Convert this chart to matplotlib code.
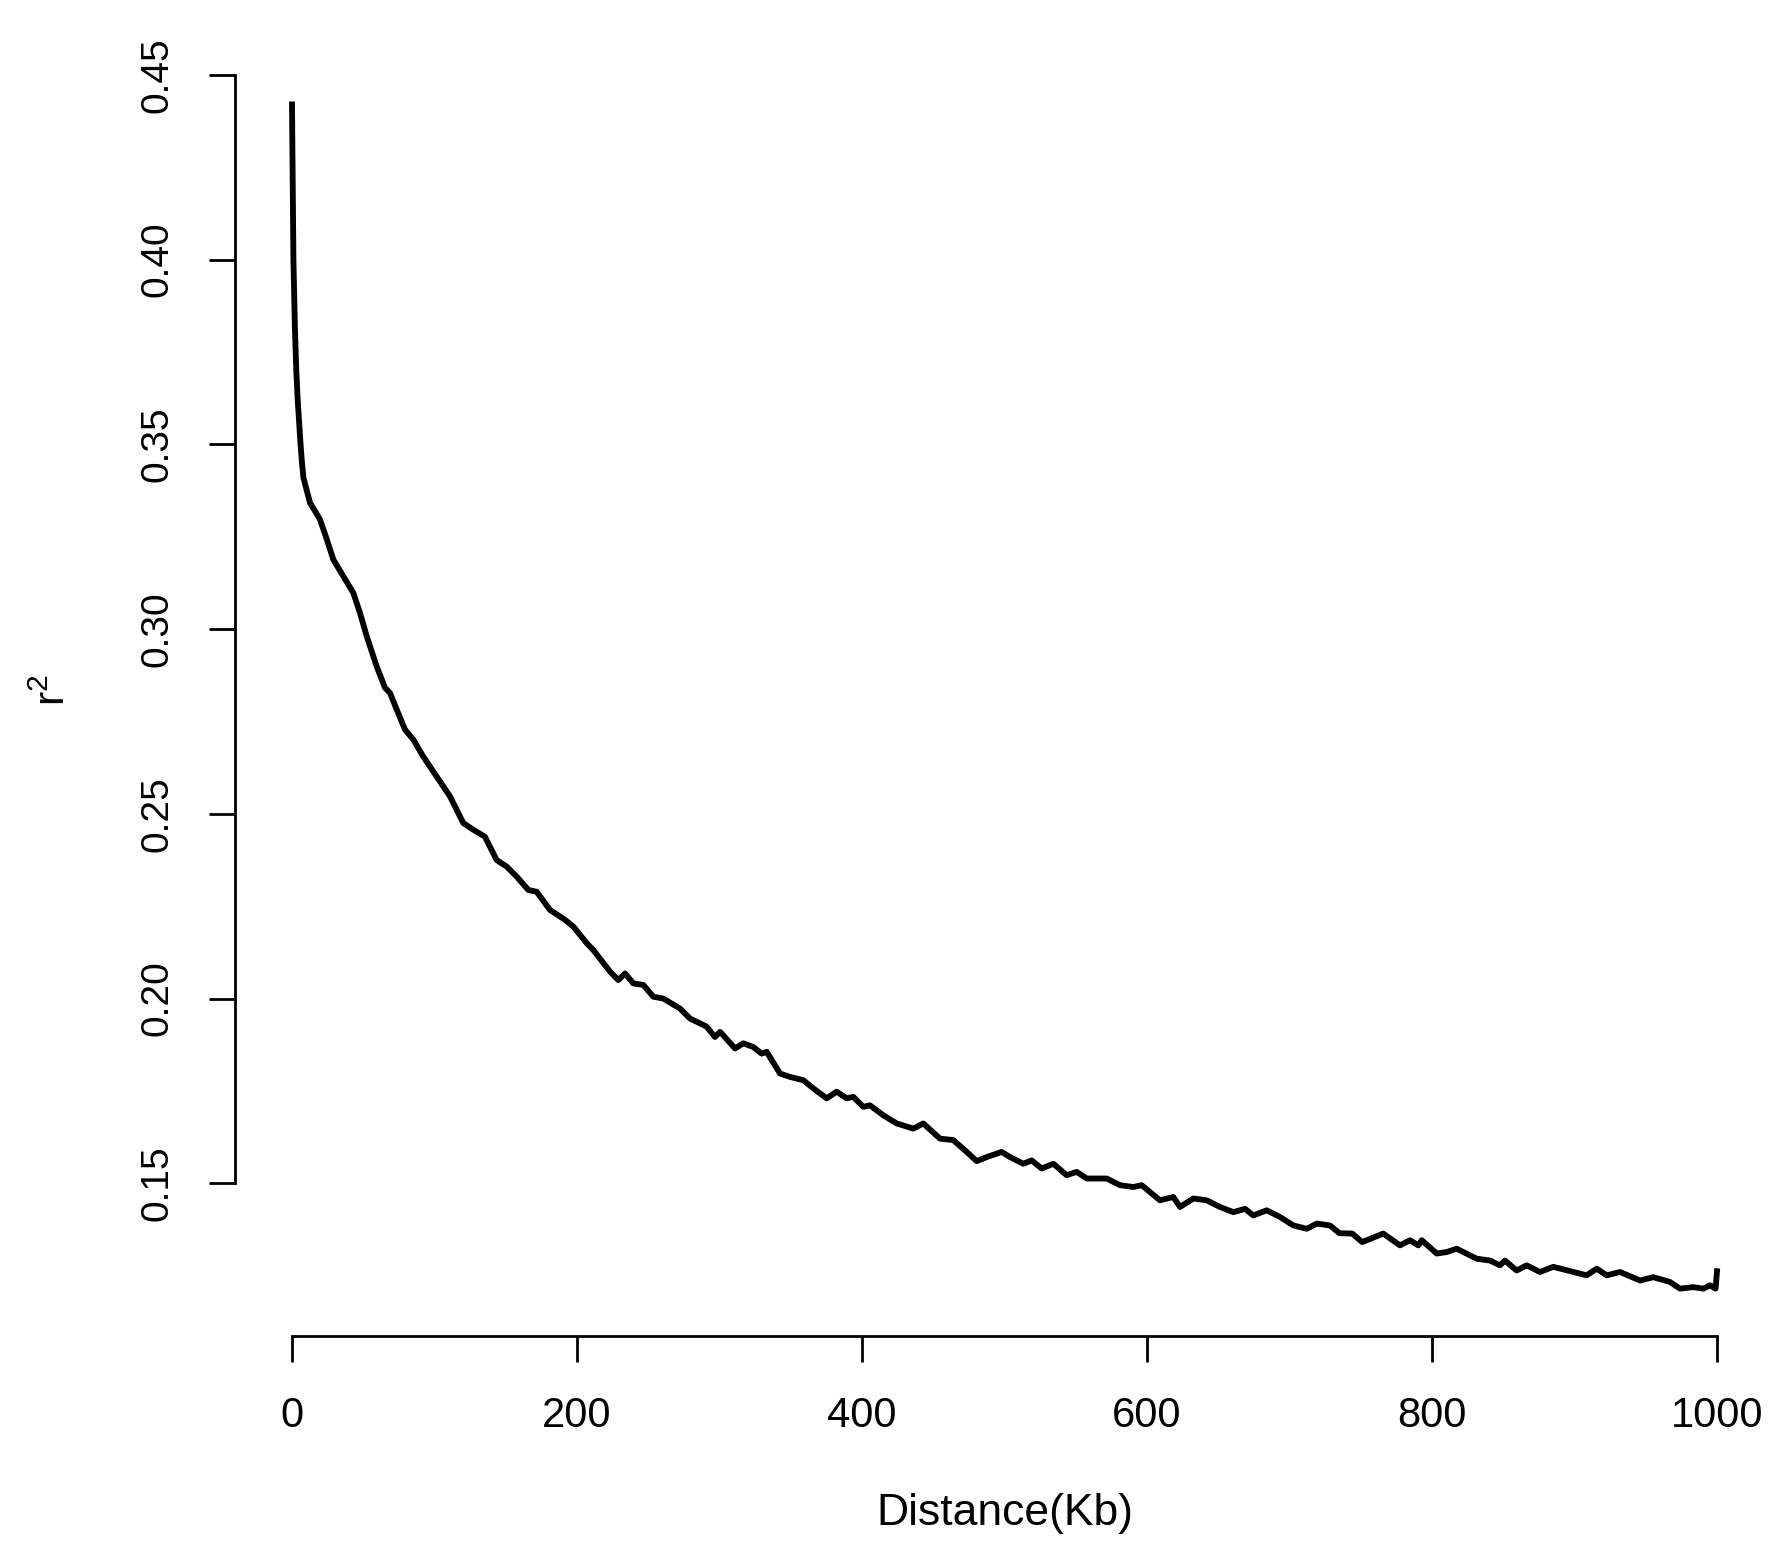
import numpy as np
import matplotlib
matplotlib.use('Agg')
import matplotlib.pyplot as plt

# ========================================
# LD decay curve
# ========================================
distance_kb = [
    0, 1, 2, 3, 4, 5, 6, 7, 8, 10, 12.6, 19.6, 24.4, 29, 36, 43, 47.7, 52.4,
    59.4, 65.3, 68.8, 73.5, 79.3, 85.1, 92.1, 101.5, 110.9, 117.9, 120.2,
    127.2, 135.4, 138.9, 143.6, 150.7, 157.7, 165.8, 171.7, 181, 191.6,
    197.4, 206.8, 211.5, 223.2, 229, 233.7, 239.5, 246.5, 253.6, 260.6,
    272.3, 279.3, 291, 296.8, 300.4, 310.9, 316.7, 323.7, 329.6, 333.1,
    342.5, 349.5, 358.8, 365.8, 375.2, 382.2, 389.3, 393.9, 400.9, 405.6,
    415, 424.4, 436, 443, 454.7, 464.1, 473.5, 480.5, 487.5, 498, 503.9,
    513.2, 519.1, 526.1, 534.3, 543.6, 550.7, 557.7, 571.7, 581.1, 590.4,
    596.3, 609.1, 618.5, 623.2, 632.5, 641.9, 651.2, 660.6, 668.8, 674.6,
    684, 693.3, 702.7, 712.1, 719.1, 728.4, 735, 744, 751, 765.8, 777.5,
    784.6, 790.4, 792.8, 803.3, 810.3, 817.3, 831.4, 840.7, 847.7, 851.2,
    859.4, 866.4, 875.8, 885.1, 899.2, 908.5, 915.6, 922.6, 931.9, 946,
    955.3, 967, 974, 983.3, 990.4, 995.1, 999, 1000,
]
r2 = [
    0.442, 0.400, 0.382, 0.370, 0.362, 0.356, 0.350, 0.345, 0.341, 0.338,
    0.3342, 0.3297,
    0.3243, 0.3188, 0.3143, 0.3098, 0.3044, 0.2981, 0.2899, 0.2841, 0.2827,
    0.2782, 0.2728, 0.2701, 0.2655, 0.2601, 0.2547, 0.2493, 0.2475, 0.2457,
    0.2438, 0.2411, 0.2375, 0.2357, 0.2330, 0.2294, 0.2289, 0.2240, 0.2213,
    0.2195, 0.2150, 0.2131, 0.2073, 0.2050, 0.2068, 0.2041, 0.2037, 0.2005,
    0.2000, 0.1973, 0.1946, 0.1924, 0.1896, 0.1910, 0.1865, 0.1879, 0.1869,
    0.1851, 0.1856, 0.1797, 0.1788, 0.1779, 0.1757, 0.1730, 0.1748, 0.1730,
    0.1734, 0.1707, 0.1711, 0.1684, 0.1662, 0.1648, 0.1662, 0.1621, 0.1617,
    0.1585, 0.1560, 0.1571, 0.1585, 0.1571, 0.1553, 0.1562, 0.1540, 0.1553,
    0.1522, 0.1531, 0.1513, 0.1513, 0.1495, 0.1490, 0.1495, 0.1454, 0.1463,
    0.1436, 0.1459, 0.1454, 0.1436, 0.1422, 0.1431, 0.1413, 0.1427, 0.1409,
    0.1386, 0.1377, 0.1391, 0.1386, 0.1365, 0.1364, 0.1341, 0.1364, 0.1332,
    0.1346, 0.1332, 0.1346, 0.1310, 0.1314, 0.1323, 0.1296, 0.1291, 0.1278,
    0.1291, 0.1264, 0.1278, 0.1260, 0.1274, 0.1260, 0.1251, 0.1269, 0.1251,
    0.1260, 0.1237, 0.1246, 0.1233, 0.1215, 0.1219, 0.1215, 0.1224, 0.1215,
    0.1262,
]

x_ticks = [0, 200, 400, 600, 800, 1000]
y_ticks = [0.15, 0.20, 0.25, 0.30, 0.35, 0.40, 0.45]

plt.rcParams['font.family'] = ['Liberation Sans', 'DejaVu Sans']
plt.rcParams['mathtext.fontset'] = 'custom'
plt.rcParams['mathtext.rm'] = 'Liberation Sans'

W, H = 1790, 1553
fig = plt.figure(figsize=(W / 100, H / 100), dpi=100)
# plot region in pixels (R style)
left, right, top, bottom = 235, 1774, 57, 1336
ax = fig.add_axes([left / W, 1 - bottom / H, (right - left) / W, (bottom - top) / H])

ax.plot(distance_kb, r2, color='black', linewidth=4.2, solid_joinstyle='round')

# R default 4% axis extension
xr = [0, 1000]
ax.set_xlim(xr[0] - 0.04 * (xr[1] - xr[0]), xr[1] + 0.04 * (xr[1] - xr[0]))
ymin, ymax = min(r2), max(r2)
ax.set_ylim(ymin - 0.04 * (ymax - ymin), ymax + 0.04 * (ymax - ymin))

for s in ['top', 'right']:
    ax.spines[s].set_visible(False)
ax.spines['left'].set_bounds(y_ticks[0], y_ticks[-1])
ax.spines['bottom'].set_bounds(x_ticks[0], x_ticks[-1])
for s in ['left', 'bottom']:
    ax.spines[s].set_linewidth(2)

ax.set_xticks(x_ticks)
ax.set_xticklabels([str(t) for t in x_ticks])
ax.set_yticks(y_ticks)
ax.set_yticklabels([f'{t:.2f}' for t in y_ticks], rotation=90, va='center')
ax.tick_params(axis='both', length=19, width=2, direction='out')
ax.tick_params(axis='x', labelsize=30, pad=24)
ax.tick_params(axis='y', labelsize=28, pad=24)

fig.text(1004.5 / W, 1 - 1513 / H, 'Distance(Kb)', ha='center', va='center', fontsize=32)
fig.text(54 / W, 1 - 690 / H, r'$\mathregular{r^2}$', ha='center', va='center',
         rotation=90, fontsize=31)

fig.savefig('out.png', dpi=100, facecolor='white')
